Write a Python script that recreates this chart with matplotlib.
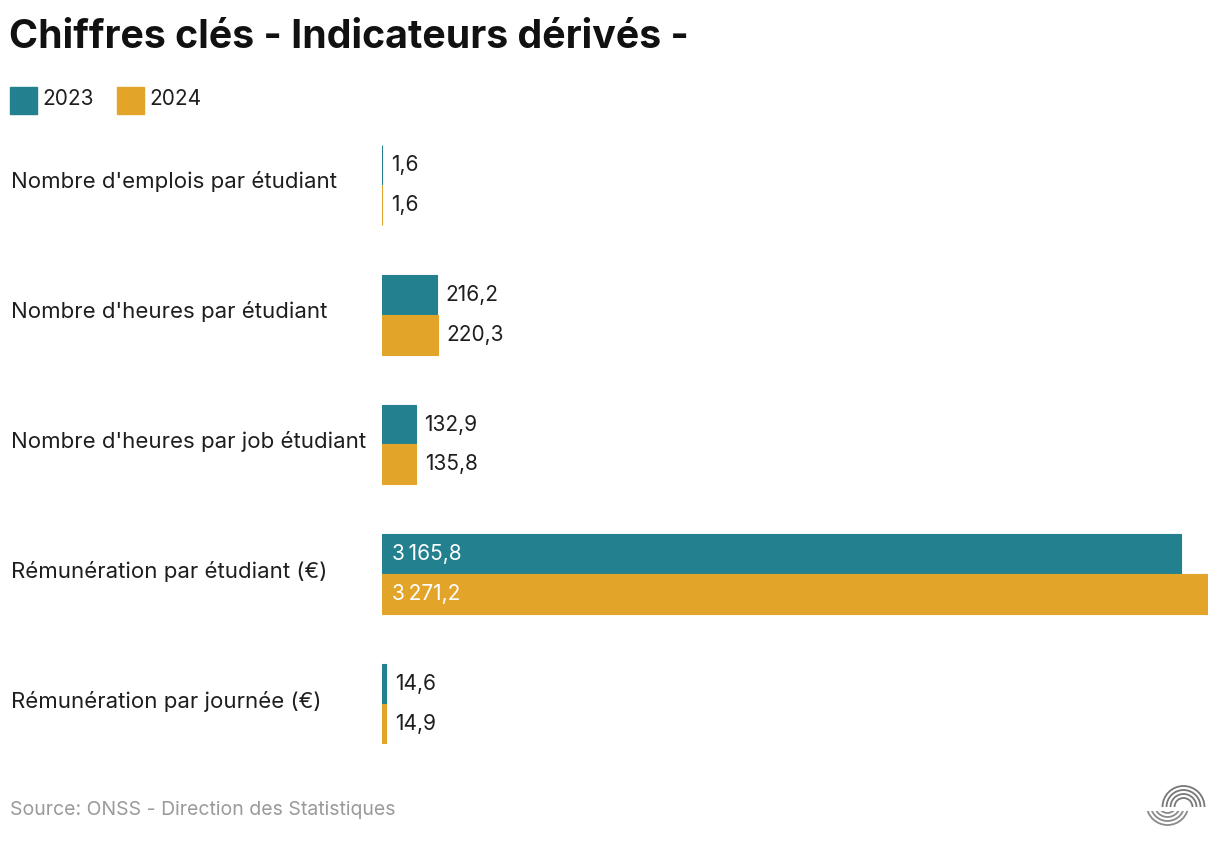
import matplotlib
matplotlib.use("Agg")
import matplotlib.pyplot as plt
from matplotlib.patches import Rectangle, Arc
import matplotlib.transforms as mtransforms
import numpy as np

plt.rcParams['font.family'] = ['Inter', 'DejaVu Sans']

categories = ["Nombre d'emplois par étudiant",
              "Nombre d'heures par étudiant",
              "Nombre d'heures par job étudiant",
              "Rémunération par étudiant (€)",
              "Rémunération par journée (€)"]
series_names = ["2023", "2024"]
values_2023 = [1.6, 216.2, 132.9, 3165.8, 14.6]
values_2024 = [1.6, 220.3, 135.8, 3271.2, 14.9]
title = "Chiffres clés - Indicateurs dérivés -"
source = "Source: ONSS - Direction des Statistiques"

C23 = "#23808E"
C24 = "#E2A52A"
TXT = "#1E1E1E"

W, H = 1220, 850
fig = plt.figure(figsize=(W / 100, H / 100), dpi=100)

def fx(px):
    return px / W

def fy(py):
    return 1 - py / H

bh = 40 / 130
ax = fig.add_axes([fx(382), fy(744), fx(1208) - fx(382), (744 - 145) / H])
y = np.arange(len(categories))
maxv = max(values_2023 + values_2024)
ax.set_xlim(0, maxv)
ax.set_ylim(len(categories) - 1 + bh, -bh)
ax.axis('off')

def fmt(v):
    s = f"{v:,.1f}"
    return s.replace(",", "\u2009").replace(".", ",")

FS = 15
for vals, col, off in [(values_2023, C23, -bh / 2), (values_2024, C24, bh / 2)]:
    ax.barh(y + off, vals, height=bh, color=col, edgecolor=col, linewidth=0.8)
    for yi, v in zip(y, vals):
        if v > 0.5 * maxv:
            tr = mtransforms.offset_copy(ax.transData, fig=fig, x=10, y=0, units='dots')
            ax.text(0, yi + off, fmt(v), transform=tr, color='white',
                    fontsize=FS, va='center', ha='left')
        else:
            tr = mtransforms.offset_copy(ax.transData, fig=fig, x=9, y=0, units='dots')
            ax.text(v, yi + off, fmt(v), transform=tr, color=TXT,
                    fontsize=FS, va='center', ha='left')

for yi, cat in zip(y, categories):
    centre_px = 182 + 130 * yi
    fig.text(fx(11), fy(centre_px), cat, fontsize=16, color=TXT, va='center', ha='left')

fig.text(fx(9), fy(37), title, fontsize=28.3, fontweight='bold', color='#111111',
         va='center', ha='left')

# legend
lx = 10
for name, col in zip(series_names, [C23, C24]):
    fig.patches.append(Rectangle((fx(lx), fy(114)), fx(27), 27 / H, transform=fig.transFigure,
                                 color=col))
    fig.text(fx(lx + 32), fy(99), name, fontsize=FS, color=TXT, va='center', ha='left')
    lx += 107

fig.text(fx(10), fy(810), source, fontsize=14, color='#9A9A9A', va='center', ha='left')

# logo
lax = fig.add_axes([fx(1140), fy(835), fx(80), 70 / H])
lax.set_xlim(1140, 1220)
lax.set_ylim(835, 765)
lax.set_aspect('equal')
lax.axis('off')
for r in [9, 13, 17, 21]:
    lax.add_patch(Arc((1183.5, 807), 2 * r, 2 * r, theta1=180, theta2=360, color='#777777', lw=1.3))
for r in [9, 13, 17, 21]:
    lax.add_patch(Arc((1167.5, 804), 2 * r, 2 * r, theta1=0, theta2=180, color='#8A8A8A', lw=1.3))
for p in lax.patches[4:]:
    p.set_clip_path(Rectangle((1140, 811), 80, 30, transform=lax.transData))

fig.savefig("out.png", dpi=100, facecolor='white')
